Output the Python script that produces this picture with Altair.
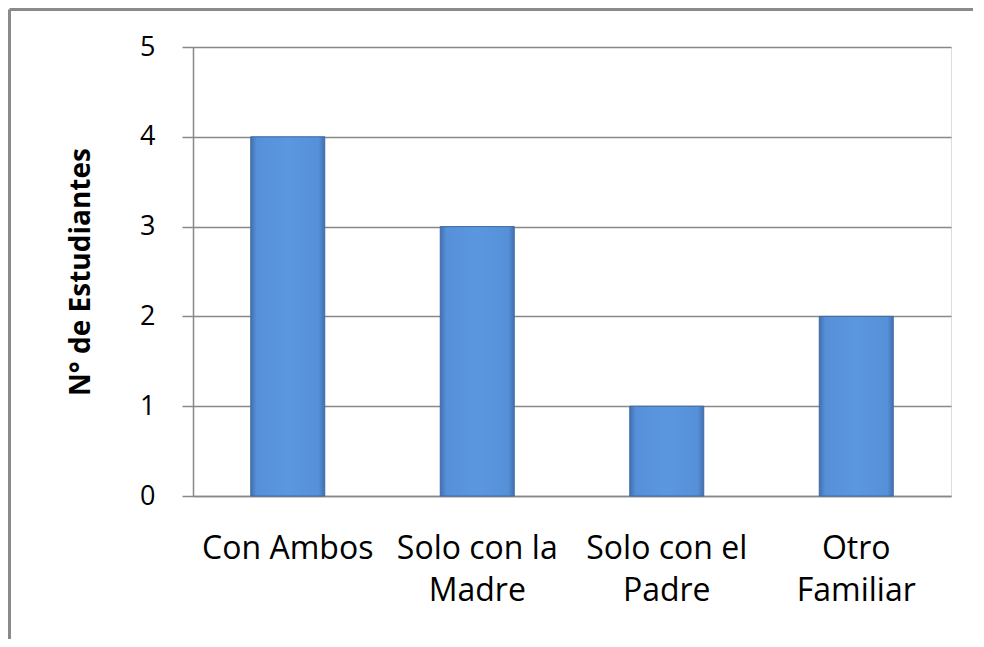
import altair as alt
import pandas as pd

categories = ["Con Ambos", "Solo con la|Madre", "Solo con el|Padre", "Otro|Familiar"]
values = [4, 3, 1, 2]
y_ticks = [0, 1, 2, 3, 4, 5]

df = pd.DataFrame({"cat": categories, "n": values})

FONT = "Open Sans"

bar_fill = alt.Gradient(
    gradient="linear", x1=0, x2=1, y1=0, y2=0,
    stops=[
        alt.GradientStop(color="#4270b0", offset=0),
        alt.GradientStop(color="#5590d8", offset=0.08),
        alt.GradientStop(color="#5b97df", offset=0.5),
        alt.GradientStop(color="#5590d8", offset=0.92),
        alt.GradientStop(color="#4270b0", offset=1),
    ],
)

bars = alt.Chart(df).mark_bar(
    fill=bar_fill, stroke="#3f6aa6", strokeWidth=1, size=74
).encode(
    x=alt.X("cat:N", sort=None, title=None,
            axis=alt.Axis(labelExpr="split(datum.label, '|')", labelAngle=0,
                          labelFont=FONT, labelFontSize=32, labelColor="#000000",
                          labelLineHeight=42, labelPadding=37, labelBaseline="top",
                          ticks=False, domainColor="#888888", domainWidth=1.5,
                          grid=False)),
    y=alt.Y("n:Q", title="N° de Estudiantes",
            scale=alt.Scale(domain=[0, 5], nice=False),
            axis=alt.Axis(values=y_ticks, format="d", labelFont=FONT, labelFontSize=27,
                          labelColor="#000000", labelPadding=27, tickSize=11,
                          tickColor="#888888", tickWidth=1.5, gridColor="#888888",
                          gridWidth=1.5, domainColor="#888888", domainWidth=1.5,
                          titleFont=FONT, titleFontSize=28, titleFontWeight="bold",
                          titleColor="#000000", titlePadding=44)),
)

frame_data = alt.Data(values=[{}])
frame_left = alt.Chart(frame_data).mark_rule(color="#8a8a8a", strokeWidth=3).encode(
    x=alt.value(-183.5), y=alt.value(-37.5), y2=alt.value(592),
)
frame_top = alt.Chart(frame_data).mark_rule(color="#8a8a8a", strokeWidth=3).encode(
    x=alt.value(-183.5), x2=alt.value(780), y=alt.value(-37.5),
)

chart = alt.layer(frame_left, frame_top, bars).properties(
    width=758, height=449, padding=0
).configure_view(stroke=None).configure(background="white")

chart.save("out.html", embed_options={"renderer": "svg", "actions": False})
